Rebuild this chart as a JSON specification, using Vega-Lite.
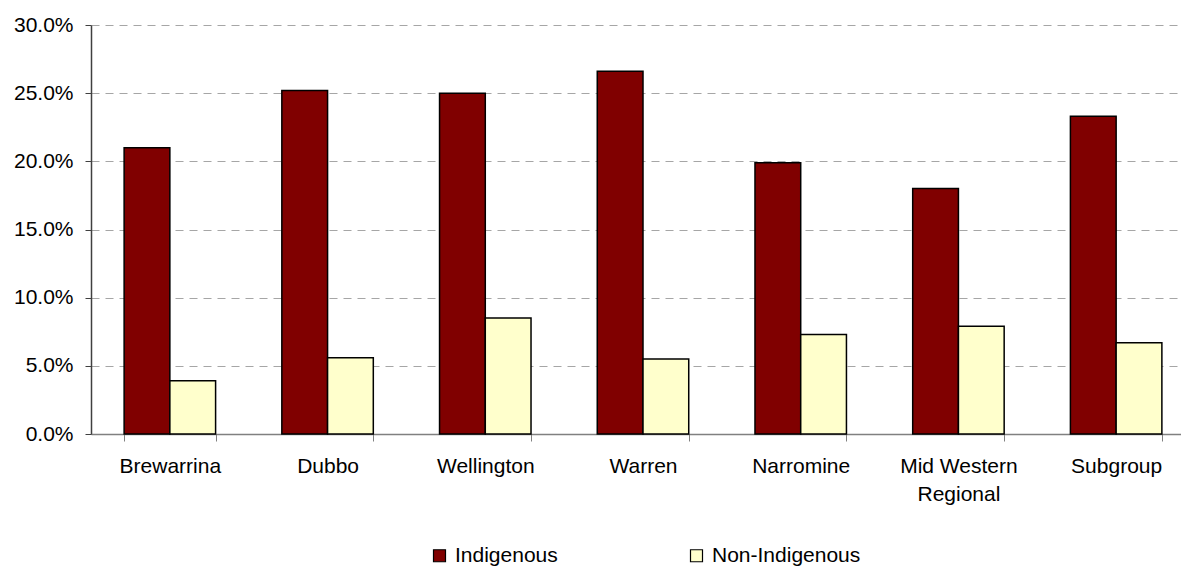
{
  "$schema": "https://vega.github.io/schema/vega-lite/v6.json",
  "autosize": "none",
  "padding": {"left": 91, "top": 25, "right": 0, "bottom": 132},
  "width": 1104,
  "height": 409,
  "background": "white",
  "data": {
    "values": [
      {"area": "Brewarrina", "group": "Indigenous", "rate": 0.210},
      {"area": "Brewarrina", "group": "Non-Indigenous", "rate": 0.039},
      {"area": "Dubbo", "group": "Indigenous", "rate": 0.252},
      {"area": "Dubbo", "group": "Non-Indigenous", "rate": 0.056},
      {"area": "Wellington", "group": "Indigenous", "rate": 0.250},
      {"area": "Wellington", "group": "Non-Indigenous", "rate": 0.085},
      {"area": "Warren", "group": "Indigenous", "rate": 0.266},
      {"area": "Warren", "group": "Non-Indigenous", "rate": 0.055},
      {"area": "Narromine", "group": "Indigenous", "rate": 0.199},
      {"area": "Narromine", "group": "Non-Indigenous", "rate": 0.073},
      {"area": "Mid Western Regional", "group": "Indigenous", "rate": 0.180},
      {"area": "Mid Western Regional", "group": "Non-Indigenous", "rate": 0.079},
      {"area": "Subgroup", "group": "Indigenous", "rate": 0.233},
      {"area": "Subgroup", "group": "Non-Indigenous", "rate": 0.067}
    ]
  },
  "mark": {"type": "bar", "stroke": "black", "strokeWidth": 1.5},
  "encoding": {
    "x": {
      "field": "area",
      "type": "nominal",
      "sort": null,
      "scale": {"paddingInner": 0.42, "paddingOuter": 0.21},
      "axis": {
        "title": null,
        "labelAngle": 0,
        "labelFont": "Liberation Sans",
        "labelFontSize": 21,
        "labelColor": "black",
        "labelPadding": 14,
        "labelLineHeight": 28,
        "labelExpr": "datum.label == 'Mid Western Regional' ? ['Mid Western', 'Regional'] : datum.label",
        "tickBand": "extent",
        "tickSize": 7,
        "tickColor": "#808080",
        "domainColor": "#808080",
        "domainWidth": 1.5
      }
    },
    "xOffset": {"field": "group", "type": "nominal", "sort": ["Indigenous", "Non-Indigenous"]},
    "y": {
      "field": "rate",
      "type": "quantitative",
      "scale": {"domain": [0, 0.3]},
      "axis": {
        "title": null,
        "values": [0, 0.05, 0.1, 0.15, 0.2, 0.25, 0.3],
        "format": ".1%",
        "labelFont": "Liberation Sans",
        "labelFontSize": 21,
        "labelColor": "black",
        "labelPadding": 12,
        "tickSize": 6,
        "tickColor": "#404040",
        "domainColor": "#404040",
        "domainWidth": 1.5,
        "grid": true,
        "gridColor": "#a6a6a6",
        "gridDash": [8, 6],
        "gridWidth": 1.2
      }
    },
    "color": {
      "field": "group",
      "type": "nominal",
      "scale": {"domain": ["Indigenous", "Non-Indigenous"], "range": ["#800000", "#FFFFCC"]},
      "legend": {
        "title": null,
        "orient": "none",
        "legendX": 338,
        "legendY": 520,
        "direction": "horizontal",
        "columns": 2,
        "columnPadding": 128,
        "symbolType": "square",
        "symbolSize": 144,
        "symbolStrokeColor": "black",
        "symbolStrokeWidth": 1.2,
        "labelFont": "Liberation Sans",
        "labelFontSize": 21,
        "labelColor": "black",
        "labelOffset": 5
      }
    }
  },
  "config": {"view": {"stroke": null}}
}
